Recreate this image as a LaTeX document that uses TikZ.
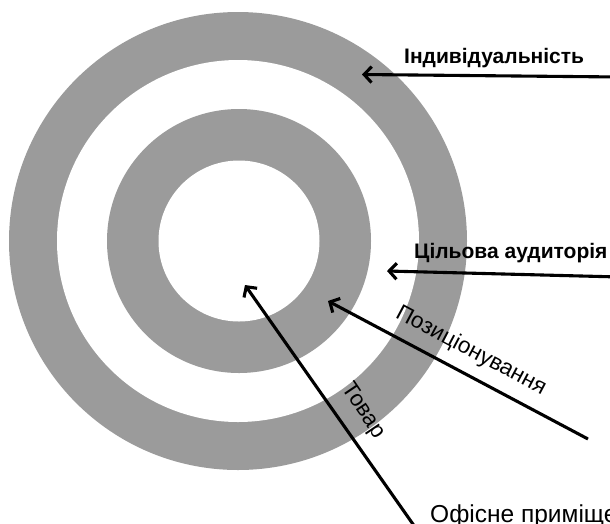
\documentclass[tikz,border=0pt]{standalone}
\usepackage{fontspec}
\setmainfont{Liberation Sans}
\usetikzlibrary{arrows.meta}
\definecolor{ringgray}{RGB}{155,155,155}
\begin{document}
\begin{tikzpicture}[x=1pt,y=-1pt,
  ringfill/.style={fill=ringgray},
  holefill/.style={fill=white},
  boldlbl/.style={font=\fontsize{21}{25}\selectfont\bfseries, inner sep=0pt, anchor=base west},
  plainlbl/.style={font=\fontsize{22.5}{27}\selectfont, inner sep=0pt},
  arr/.style={line width=3.1pt, -{Straight Barb[length=7.5pt,width=16pt]}}]
\useasboundingbox (0,0) rectangle (610,523);
\clip (0,0) rectangle (610,523);
% rings
\fill[ringfill] (238,241) circle[radius=229];
\fill[holefill] (238,241) circle[radius=181];
\fill[ringfill] (239,241) circle[radius=132];
\fill[holefill] (239,241) circle[radius=80.5];
% labels
\node[boldlbl] (ind) at (404,63) {Індивідуальність};
\node[boldlbl] (tsil) at (414,258) {Цільова аудиторія};
\node[plainlbl, rotate=-28] (poz) at (471,351) {Позиціонування};
\node[plainlbl, rotate=-56] (tov) at (363,411) {Товар};
\node[plainlbl, font=\fontsize{24.5}{29}\selectfont, anchor=base west] (ofis) at (430,522) {Офісне приміщення};
% arrow ends
\coordinate (indTip) at (362,74.5);
\coordinate (indTail) at (620,77);
\coordinate (tsilTip) at (387,271);
\coordinate (tsilTail) at (620,277);
\coordinate (pozTip) at (328,301);
\coordinate (pozTail) at (588,439);
\coordinate (tovTip) at (245,285);
\coordinate (tovTail) at (422,537);
% arrows
\draw[arr] (indTail) -- (indTip);
\draw[arr] (tsilTail) -- (tsilTip);
\draw[arr] (pozTail) -- (pozTip);
\draw[arr] (tovTail) -- (tovTip);
\end{tikzpicture}
\end{document}
